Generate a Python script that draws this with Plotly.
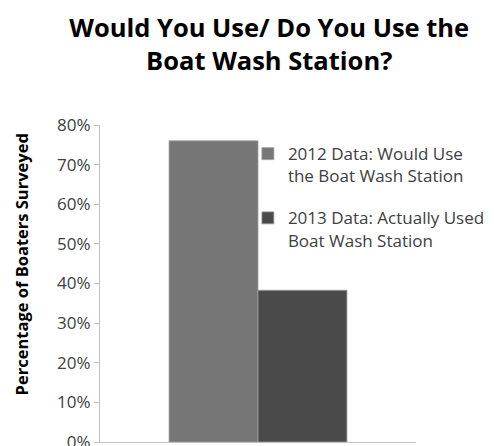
import plotly.graph_objects as go

categories = [""]
series_names = ["2012 Data: Would Use<br>the Boat Wash Station",
                "2013 Data: Actually Used<br>Boat Wash Station"]
series_values = [[0.76], [0.383]]
series_colors = ["#767676", "#4a4a4a"]
y_tick_vals = [0, 0.1, 0.2, 0.3, 0.4, 0.5, 0.6, 0.7, 0.8]

fig = go.Figure()
for i, (name, vals, col) in enumerate(zip(series_names, series_values, series_colors)):
    fig.add_trace(go.Bar(x=categories, y=vals, name=name, legendgroup=f"g{i}",
                         marker=dict(color=col, line=dict(color="#a0a0a0", width=0.8))))

FONT = "Open Sans"
fig.update_layout(
    width=494, height=446,
    margin=dict(l=100, r=78, t=125, b=4, autoexpand=False),
    paper_bgcolor="white", plot_bgcolor="white",
    barmode="group", bargap=0.437, bargroupgap=0,
    font=dict(family=FONT, color="#404040", size=17),
    title=dict(text="<b>Would You Use/ Do You Use the<br>Boat Wash Station?</b>",
               x=0.545, xanchor="center", xref="container",
               y=0.918, yanchor="top", yref="container",
               font=dict(family=FONT, size=25.5, color="#000000")),
    showlegend=True,
    legend=dict(x=0.468, xanchor="left", y=0.965, yanchor="top",
                valign="top", tracegroupgap=17,
                bgcolor="rgba(0,0,0,0)",
                font=dict(family=FONT, size=17, color="#404040")),
    xaxis=dict(showticklabels=False, showline=True, linecolor="#c0c0c0",
               linewidth=1, ticks="", showgrid=False, zeroline=False,
               automargin=False),
    yaxis=dict(range=[0, 0.8], tickvals=y_tick_vals, tickformat=".0%",
               showline=True, linecolor="#c0c0c0", linewidth=1,
               ticks="outside", ticklen=5, tickcolor="#c0c0c0",
               ticklabeloverflow="allow", automargin=False,
               showgrid=False, zeroline=False),
    annotations=[dict(text="<b>Percentage of Boaters Surveyed</b>",
                      textangle=-90, xref="paper", yref="paper",
                      x=-0.247, y=0.56, xanchor="center", yanchor="middle",
                      showarrow=False,
                      font=dict(family=FONT, size=16.5, color="#000000"))],
)

fig.write_html("out.html")
